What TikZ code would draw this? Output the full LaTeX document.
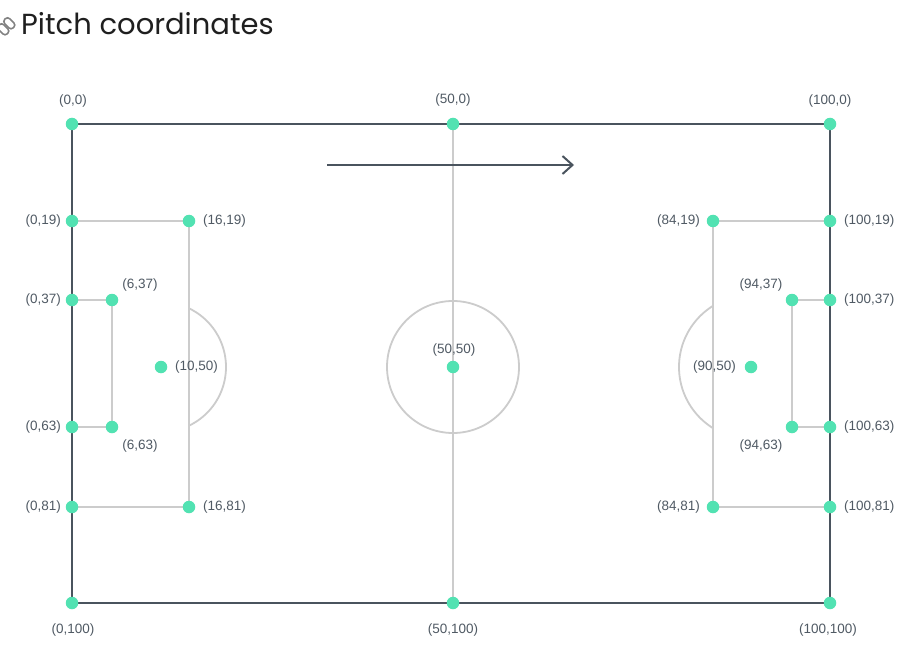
\documentclass[tikz,border=0pt]{standalone}
\usepackage{fontspec}
\setmainfont{Liberation Sans}
\newfontfamily\titlefont{Poppins}
\usetikzlibrary{arrows.meta}
\definecolor{dotgreen}{RGB}{82,226,178}
\definecolor{pitchdark}{RGB}{74,84,94}
\definecolor{linegray}{RGB}{204,204,204}
\definecolor{labelgray}{RGB}{80,90,100}
\definecolor{icongray}{RGB}{130,130,130}
\tikzset{
  pt/.style={circle,fill=dotgreen,inner sep=0pt,minimum size=12.5pt},
  lbl/.style={text=labelgray,font=\fontsize{13.5}{15}\selectfont,inner sep=0pt},
  outline/.style={draw=pitchdark,line width=2.6pt},
  inner/.style={draw=linegray,line width=1.8pt},
  dirarrow/.style={draw=pitchdark,line width=2pt,-{Straight Barb[length=10pt,width=18pt,line width=2pt]}}
}
\begin{document}
\begin{tikzpicture}[x=1pt,y=-1pt]
\useasboundingbox[fill=white] (0,0) rectangle (918,655);
% title
\node[anchor=base west,inner sep=0pt,text=black!88,font=\titlefont\fontsize{29}{33}\selectfont] (title) at (21,35) {Pitch coordinates};
\begin{scope}[icongray,line width=1.6pt]
\draw[rounded corners=3pt,rotate around={-45:(4,30)}] (-3,26.5) rectangle (9,33.5);
\draw[rounded corners=3pt,rotate around={-45:(10,24)}] (3,20.5) rectangle (15,27.5);
\end{scope}
% coordinates
\coordinate (c00) at (72,124);
\coordinate (c500) at (453,124);
\coordinate (c1000) at (830,124);
\coordinate (c019) at (72,221);
\coordinate (c1619) at (189,221);
\coordinate (c037) at (72,300);
\coordinate (c637) at (112,300);
\coordinate (c1050) at (161,367);
\coordinate (c063) at (72,427);
\coordinate (c663) at (112,427);
\coordinate (c081) at (72,507);
\coordinate (c1681) at (189,507);
\coordinate (c0100) at (72,603);
\coordinate (c50100) at (453,603);
\coordinate (c100100) at (830,603);
\coordinate (c5050) at (453,367);
\coordinate (c8419) at (713,221);
\coordinate (c10019) at (830,221);
\coordinate (c9437) at (792,300);
\coordinate (c10037) at (830,300);
\coordinate (c9050) at (751,367);
\coordinate (c9463) at (792,427);
\coordinate (c10063) at (830,427);
\coordinate (c8481) at (713,507);
\coordinate (c10081) at (830,507);
% inner lines
\draw[inner] (c500) -- (c50100);
\draw[inner] (c5050) circle (66);
\draw[inner] (c019) -- (c1619) -- (c1681) -- (c081);
\draw[inner] (c037) -- (c637) -- (c663) -- (c063);
\draw[inner] (c10019) -- (c8419) -- (c8481) -- (c10081);
\draw[inner] (c10037) -- (c9437) -- (c9463) -- (c10063);
\begin{scope}
\clip (189,250) rectangle (260,480);
\draw[inner] (c1050) circle (65);
\end{scope}
\begin{scope}
\clip (640,250) rectangle (713,480);
\draw[inner] (c9050) circle (72);
\end{scope}
% outline
\draw[outline] (c00) -- (c1000) -- (c100100) -- (c0100) -- cycle;
% direction arrow
\coordinate (a1) at (327,165);
\coordinate (a2) at (574,165);
\draw[dirarrow] (a1) -- (a2);
% dots
\foreach \c in {c00,c500,c1000,c019,c1619,c037,c637,c1050,c063,c663,c081,c1681,c0100,c50100,c100100,c5050,c8419,c10019,c9437,c10037,c9050,c9463,c10063,c8481,c10081}
  \node[pt] (d\c) at (\c) {};
% labels
\node[lbl] (l00) at (73,101) {(0,0)};
\node[lbl] (l500) at (453,100) {(50,0)};
\node[lbl] (l1000) at (830,101) {(100,0)};
\node[lbl,anchor=east] (l019) at (61,221) {(0,19)};
\node[lbl,anchor=west] (l1619) at (203,221) {(16,19)};
\node[lbl,anchor=east] (l037) at (61,300) {(0,37)};
\node[lbl] (l637) at (140,285) {(6,37)};
\node[lbl,anchor=west] (l1050) at (175,367) {(10,50)};
\node[lbl,anchor=east] (l063) at (61,427) {(0,63)};
\node[lbl] (l663) at (140,446) {(6,63)};
\node[lbl,anchor=east] (l081) at (61,507) {(0,81)};
\node[lbl,anchor=west] (l1681) at (203,507) {(16,81)};
\node[lbl] (l0100) at (73,630) {(0,100)};
\node[lbl] (l50100) at (453,630) {(50,100)};
\node[lbl] (l100100) at (828,630) {(100,100)};
\node[lbl] (l5050) at (454,350) {(50,50)};
\node[lbl,anchor=east] (l8419) at (700,221) {(84,19)};
\node[lbl,anchor=west] (l10019) at (844,221) {(100,19)};
\node[lbl] (l9437) at (761,285) {(94,37)};
\node[lbl,anchor=west] (l10037) at (844,300) {(100,37)};
\node[lbl,anchor=east] (l9050) at (736,367) {(90,50)};
\node[lbl] (l9463) at (761,446) {(94,63)};
\node[lbl,anchor=west] (l10063) at (844,427) {(100,63)};
\node[lbl,anchor=east] (l8481) at (700,507) {(84,81)};
\node[lbl,anchor=west] (l10081) at (844,507) {(100,81)};
\end{tikzpicture}
\end{document}
